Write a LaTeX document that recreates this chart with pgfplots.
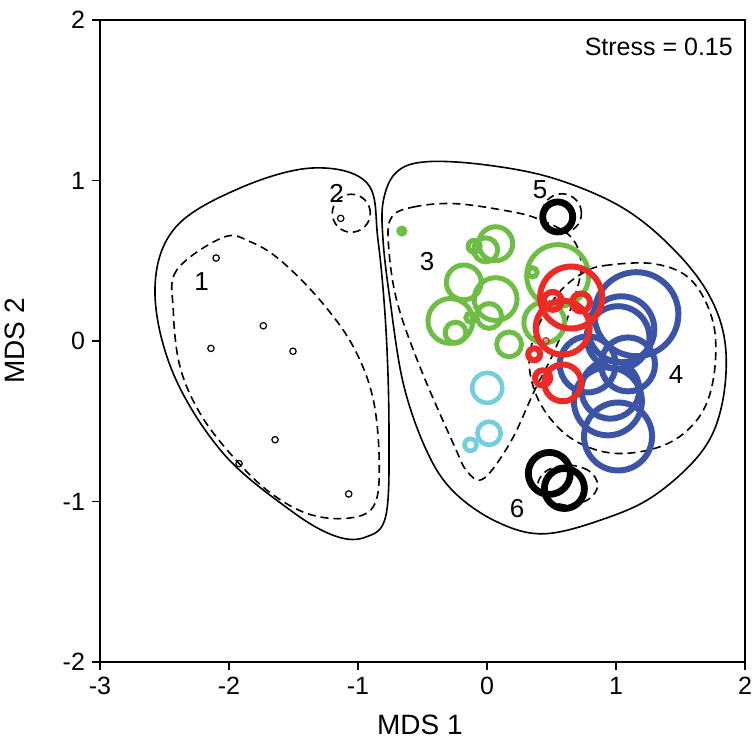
\documentclass[border=0pt]{standalone}
\usepackage{fontspec}
\setmainfont{Liberation Sans}
\usepackage{pgfplots}
\pgfplotsset{compat=1.18}

\definecolor{cgreen}{RGB}{110,190,70}
\definecolor{cred}{RGB}{236,42,38}
\definecolor{cblue}{RGB}{60,84,165}
\definecolor{ccyan}{RGB}{116,206,219}

% bubbles: r column = radius in pt
\pgfplotsset{
  bub/.style={scatter, only marks, mark=o, point meta=x,
    scatter/use mapped color={draw=#1},
    visualization depends on={\thisrow{r} \as \rr},
    scatter/@pre marker code/.append style={/tikz/mark size=\rr}},
  hull/.style={black, line width=0.8pt, smooth cycle, tension=0.6},
  dhull/.style={hull, dash pattern=on 4pt off 2.5pt}
}
\tikzset{grp/.style={font=\fontsize{13}{13}\selectfont}}

\begin{document}
\begin{tikzpicture}
\begin{axis}[
  scale only axis, width=322.5pt, height=321pt,
  xmin=-3, xmax=2, ymin=-2, ymax=2,
  xtick={-3,-2,...,2}, ytick={-2,-1,...,2},
  tick align=outside, xtick pos=left, ytick pos=left,
  major tick length=4pt,
  axis line style={line width=0.9pt}, every tick/.style={black, line width=0.9pt},
  tick label style={font=\fontsize{12.5}{12.5}\selectfont},
  /pgf/number format/assume math mode=true,
  xlabel={MDS 1}, ylabel={MDS 2},
  label style={font=\fontsize{14}{14}\selectfont},
  xlabel style={at={(axis description cs:0.496,-0.098)}, anchor=center},
  ylabel style={at={(axis description cs:-0.132,0.5)}, anchor=center},
  clip=false
]
% group 1 and 2 points
\addplot[only marks, mark=o, mark size=1.6pt, line width=0.6pt, black] coordinates {
  (-2.10,0.517) (-2.14,-0.046) (-1.734,0.095) (-1.504,-0.064)
  (-1.643,-0.615) (-1.922,-0.764) (-1.072,-0.953) (-1.134,0.764)};
% green
\addplot[only marks, mark=*, mark size=2.6pt, cgreen] coordinates {(-0.660,0.685)};
\addplot[bub=cgreen, line width=2.5pt] table {
x y r
0.067 0.606 8.5
-0.01 0.568 6.0
-0.10 0.590 3.0
-0.180 0.365 8.7
0.067 0.261 10.7
-0.284 0.125 11.2
-0.244 0.052 5.2
0.016 0.156 6.2
-0.128 0.146 2.3
0.171 -0.021 6.2
0.444 0.115 10.2
0.548 0.407 15.5
0.353 0.428 2.3
};
% cyan
\addplot[bub=ccyan, line width=2.3pt] table {
x y r
0.002 -0.292 7.5
0.016 -0.575 5.8
-0.128 -0.647 3.0
};
% black
\addplot[bub=black, line width=3.4pt] table {
x y r
0.548 0.773 7.5
0.483 -0.825 10.5
0.600 -0.919 10.0
};
% blue
\addplot[bub=cblue, line width=3pt] table {
x y r
1.158 0.167 21.0
1.041 0.073 16.5
1.016 0.021 15.7
1.093 -0.146 13.5
0.781 -0.146 14.0
0.956 -0.303 14.5
0.937 -0.376 17.0
1.016 -0.595 17.0
};
% red
\addplot[bub=cred, line width=3pt] table {
x y r
0.652 0.271 15.5
0.587 0.083 13.5
0.587 -0.261 9.2
0.431 -0.230 3.8
0.366 -0.083 3.0
0.509 0.250 4.5
0.729 0.240 4.5
};
\addplot[only marks, mark=o, mark size=1.6pt, line width=0.8pt, cred] coordinates {(0.457,0.0)};
% hulls
\addplot[hull] coordinates {
  (-1.349,1.078) (-0.930,0.984) (-0.845,0.629) (-0.783,0.069) (-0.760,-0.555)
  (-0.783,-1.084) (-0.938,-1.221) (-1.178,-1.215) (-1.527,-1.053) (-2.047,-0.698)
  (-2.434,-0.199) (-2.574,0.318) (-2.419,0.704) (-1.915,0.953)};
\addplot[dhull] coordinates {
  (-2.044,0.646) (-2.405,0.442) (-2.432,0.193) (-2.380,-0.160) (-2.225,-0.450)
  (-1.992,-0.700) (-1.708,-0.928) (-1.398,-1.074) (-1.088,-1.105) (-0.881,-1.032)
  (-0.835,-0.783) (-0.881,-0.368) (-1.036,-0.036) (-1.295,0.255) (-1.605,0.505)
  (-1.837,0.619)};
\addplot[only marks, mark=o, mark size=9.5pt, black,
  mark options={line width=0.8pt, dash pattern=on 4pt off 2.5pt}] coordinates {(-1.052,0.796)};
\addplot[only marks, mark=o, mark size=9.8pt, black,
  mark options={line width=0.8pt, dash pattern=on 4pt off 2.5pt}] coordinates {(0.58,0.795)};
\addplot[hull] coordinates {
  (-0.803,0.877) (-0.699,1.054) (-0.465,1.117) (0.002,1.096) (0.522,1.012)
  (1.041,0.835) (1.431,0.584) (1.717,0.292) (1.847,-0.021) (1.821,-0.397)
  (1.665,-0.689) (1.302,-0.960) (0.912,-1.107) (0.444,-1.201) (0.080,-1.128)
  (-0.257,-0.940) (-0.465,-0.689) (-0.647,-0.272) (-0.752,0.255) (-0.806,0.629)};
\addplot[dhull] coordinates {
  (-0.738,0.773) (-0.569,0.835) (-0.257,0.856) (0.132,0.814) (0.392,0.762)
  (0.652,0.647) (0.729,0.459) (0.652,0.209) (0.522,-0.063) (0.366,-0.313)
  (0.184,-0.627) (-0.024,-0.856) (-0.153,-0.814) (-0.257,-0.647) (-0.517,-0.167)
  (-0.699,0.250) (-0.764,0.606)};
\addplot[dhull] coordinates {
  (0.729,0.417) (0.912,0.470) (1.302,0.480) (1.587,0.376) (1.756,0.104)
  (1.756,-0.230) (1.639,-0.480) (1.379,-0.647) (0.989,-0.700) (0.652,-0.606)
  (0.418,-0.397) (0.327,-0.146) (0.392,0.083) (0.548,0.292)};
\addplot[dhull] coordinates {
  (0.858,-0.897) (0.790,-0.809) (0.626,-0.773) (0.461,-0.809)
  (0.393,-0.897) (0.461,-0.985) (0.626,-1.022) (0.790,-0.985)};
% labels
\node[grp] at (axis cs:-2.212,0.369) {1};
\node[grp] at (axis cs:-1.165,0.920) {2};
\node[grp] at (axis cs:-0.465,0.492) {3};
\node[grp] at (axis cs:1.465,-0.206) {4};
\node[grp] at (axis cs:0.411,0.941) {5};
\node[grp] at (axis cs:0.233,-1.047) {6};
\node[anchor=east, font=\fontsize{12.5}{12.5}\selectfont] at (axis cs:1.96,1.832) {Stress = 0.15};
\end{axis}
\pgfresetboundingbox
\path ([shift={(-50pt,-39pt)}]current axis.south west) rectangle ([shift={(5pt,10pt)}]current axis.north east);
\end{tikzpicture}
\end{document}
